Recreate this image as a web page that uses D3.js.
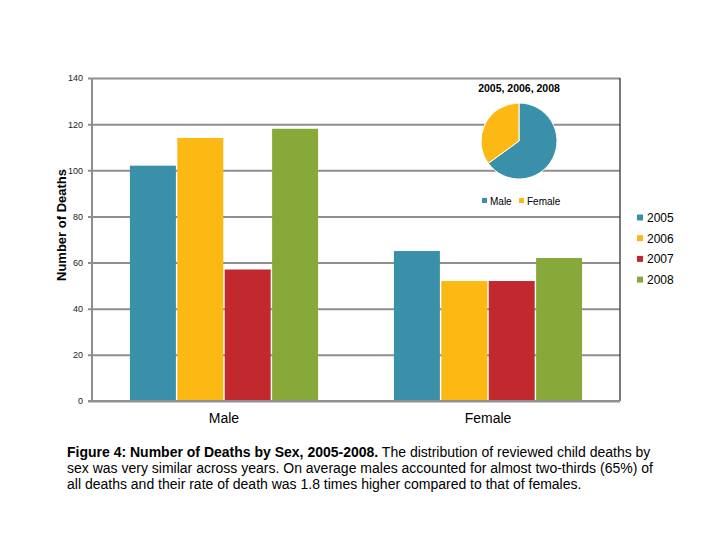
<!DOCTYPE html>
<html>
<head>
<meta charset="utf-8">
<script src="https://cdn.jsdelivr.net/npm/d3@7"></script>
<style>
  body { margin: 0; background: #fff; }
  svg { display: block; font-family: Arial, "Liberation Sans", sans-serif; }
</style>
</head>
<body>
<div id="graphic-area"></div>
<script>
// chart values
const sexes = ["Male", "Female"];
const years = ["2005", "2006", "2007", "2008"];
const deaths2005 = [102, 65];
const deaths2006 = [114, 52];
const deaths2007 = [57, 52];
const deaths2008 = [118, 62];
const yTicks = [0, 20, 40, 60, 80, 100, 120, 140];
const pieLabels = ["Male", "Female"];
const pieValues = [65, 35];
const pieTitle = "2005, 2006, 2008";

const colors = ["#3a90a8", "#fdb913", "#c1292e", "#87a93a"];

const w = 720;
const h = 540;
const plot = {left: 92, right: 620, top: 78, bottom: 401};

const series = [deaths2005, deaths2006, deaths2007, deaths2008];

const svg = d3.select("#graphic-area")
              .append("svg")
              .attr("width", w)
              .attr("height", h);

const xScale = d3.scaleBand()
                 .domain(sexes)
                 .range([plot.left, plot.right]);

const xInner = d3.scaleBand()
                 .domain(years)
                 .range([0, xScale.bandwidth()])
                 .paddingOuter(0.8)
                 .paddingInner(0.03);

const yScale = d3.scaleLinear()
                 .domain([0, 140])
                 .range([plot.bottom, plot.top]);

// gridlines
const yAxis = d3.axisLeft(yScale)
                .tickValues(yTicks)
                .tickSize(-(plot.right - plot.left + 4))
                .tickPadding(5)
                .tickFormat(d3.format("d"));

svg.append("g")
   .attr("id", "y-axis")
   .attr("transform", "translate(" + (plot.left - 4) + ",0)")
   .call(yAxis)
   .call(g => g.select(".domain").remove())
   .call(g => g.selectAll("line").attr("stroke", "#8f8f8f").attr("stroke-width", 2))
   .call(g => g.selectAll("text").attr("font-size", 9).attr("fill", "#222"));

svg.append("line")
   .attr("x1", plot.left).attr("x2", plot.left)
   .attr("y1", plot.top).attr("y2", plot.bottom)
   .attr("stroke", "#8f8f8f").attr("stroke-width", 2);

svg.append("line")
   .attr("x1", plot.right).attr("x2", plot.right)
   .attr("y1", plot.top).attr("y2", plot.bottom)
   .attr("stroke", "#222").attr("stroke-width", 1.2);

// bars
series.forEach((vals, si) => {
  svg.append("g")
     .selectAll("rect")
     .data(vals)
     .enter()
     .append("rect")
     .attr("x", (d, i) => xScale(sexes[i]) + xInner(years[si]))
     .attr("y", d => yScale(d))
     .attr("width", xInner.bandwidth())
     .attr("height", d => plot.bottom - yScale(d))
     .attr("fill", colors[si]);
});

// x axis line on top of bars
svg.append("line")
   .attr("x1", plot.left - 4).attr("x2", plot.right)
   .attr("y1", plot.bottom).attr("y2", plot.bottom)
   .attr("stroke", "#8f8f8f").attr("stroke-width", 2);

// category labels
svg.append("g")
   .selectAll("text")
   .data(sexes)
   .enter()
   .append("text")
   .attr("x", d => xScale(d) + xScale.bandwidth() / 2)
   .attr("y", 423)
   .attr("text-anchor", "middle")
   .attr("font-size", 14)
   .text(d => d);

// y title
svg.append("text")
   .attr("transform", "rotate(-90)")
   .attr("x", -225)
   .attr("y", 66)
   .attr("text-anchor", "middle")
   .attr("font-size", 13)
   .attr("font-weight", "bold")
   .text("Number of Deaths");

// legend
const legend = svg.append("g")
                  .selectAll("g")
                  .data(years)
                  .enter()
                  .append("g")
                  .attr("transform", (d, i) => "translate(637," + (218 + i * 20.7) + ")");

legend.append("rect")
      .attr("x", 0).attr("y", -3.5)
      .attr("width", 6).attr("height", 6)
      .attr("fill", (d, i) => colors[i]);

legend.append("text")
      .attr("x", 10).attr("y", 4)
      .attr("font-size", 12)
      .text(d => d);

// inset pie
const pieG = svg.append("g").attr("transform", "translate(519,141)");
const pie = d3.pie().sort(null);
const arc = d3.arc().innerRadius(0).outerRadius(38);

pieG.selectAll("path")
    .data(pie(pieValues))
    .enter()
    .append("path")
    .attr("d", arc)
    .attr("fill", (d, i) => colors[i])
    .attr("stroke", "#fff")
    .attr("stroke-width", 1);

svg.append("text")
   .attr("x", 519).attr("y", 92)
   .attr("text-anchor", "middle")
   .attr("font-size", 10.5)
   .attr("font-weight", "bold")
   .text(pieTitle);

const pieLegend = svg.append("g")
                     .selectAll("g")
                     .data(pieLabels)
                     .enter()
                     .append("g")
                     .attr("transform", (d, i) => "translate(482," + 201 + ")translate(" + (i * 37) + ",0)");

pieLegend.append("rect")
         .attr("x", 0).attr("y", -3)
         .attr("width", 5).attr("height", 5)
         .attr("fill", (d, i) => colors[i]);

pieLegend.append("text")
         .attr("x", 8).attr("y", 4)
         .attr("font-size", 10)
         .text(d => d);

// caption
const caption = svg.append("text")
                   .attr("x", 67)
                   .attr("font-size", 14);

caption.append("tspan")
       .attr("x", 67).attr("y", 457)
       .attr("font-weight", "bold")
       .text("Figure 4: Number of Deaths by Sex, 2005-2008.");
caption.append("tspan")
       .text(" The distribution of reviewed child deaths by");
caption.append("tspan")
       .attr("x", 67).attr("y", 473)
       .text("sex was very similar across years. On average males accounted for almost two-thirds (65%) of");
caption.append("tspan")
       .attr("x", 67).attr("y", 489)
       .text("all deaths and their rate of death was 1.8 times higher compared to that of females.");
</script>
</body>
</html>
